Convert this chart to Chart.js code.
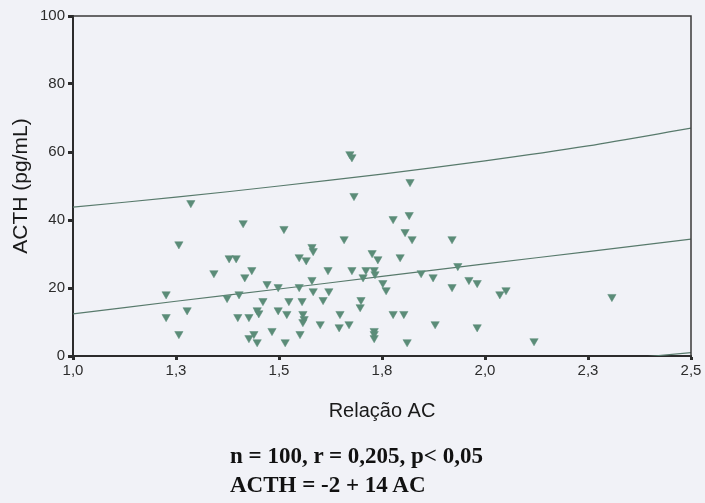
<!DOCTYPE html>
<html>
<head>
<meta charset="utf-8">
<script src="https://cdn.jsdelivr.net/npm/chart.js@4/dist/chart.umd.min.js"></script>
<style>
    body { margin: 0; background: #f1f2f7; }
    #wrap { position: relative; width: 705px; height: 503px; }
    .stat {
        position: absolute; left: 230px; margin: 0;
        font: bold 23px "Liberation Serif", "Times New Roman", serif;
        line-height: 23px; color: #111; white-space: nowrap;
    }
</style>
</head>
<body>
<div id="wrap">
    <canvas id="chart" width="705" height="503"></canvas>
    <p class="stat" style="top:444px">n = 100, r = 0,205, p&lt; 0,05</p>
    <p class="stat" style="top:473px">ACTH = -2 + 14 AC</p>
</div>
<script>

// scatter values
var acRatio = [1.286,1.257,1.413,1.512,1.672,1.677,1.818,1.682,1.816,1.777,
    1.806,1.823,1.920,1.658,1.580,1.583,1.726,1.740,1.794,1.379,
    1.396,1.549,1.566,1.342,1.434,1.417,1.471,1.498,1.549,1.226,
    1.374,1.403,1.461,1.524,1.556,1.277,1.226,1.400,1.427,1.447,
    1.451,1.498,1.519,1.558,1.561,1.558,1.257,1.427,1.439,1.447,
    1.483,1.515,1.551,1.619,1.677,1.711,1.731,1.733,1.704,1.845,
    1.874,1.934,1.580,1.583,1.621,1.752,1.760,1.920,1.699,1.697,
    1.607,1.648,1.777,1.803,1.600,1.646,1.670,1.879,1.731,1.731,
    1.731,1.811,1.961,1.981,2.036,2.051,2.308,1.981,2.119];
var acth = [45.0,32.9,39.1,37.4,59.4,58.5,51.2,47.1,41.5,40.3,
    36.5,34.4,34.4,34.4,32.1,30.9,30.3,28.5,29.1,28.8,
    28.8,29.1,28.2,24.4,25.3,23.2,21.2,20.3,20.3,18.2,
    17.1,18.2,16.2,16.2,16.2,13.5,11.5,11.5,11.5,13.5,
    12.6,13.5,12.4,12.4,10.9,10.0,6.5,5.3,6.5,4.1,
    7.4,4.1,6.5,25.3,25.3,25.3,25.3,24.1,23.2,24.4,
    23.2,26.5,22.4,19.1,19.1,21.5,19.4,20.3,16.5,14.4,
    16.5,12.4,12.4,12.4,9.4,8.5,9.4,9.4,7.4,6.5,
    5.3,4.1,22.4,21.5,18.2,19.4,17.4,8.5,4.4];

// regression line and band, read at the x ticks
var lineX = [1.0, 1.25, 1.5, 1.75, 2.0, 2.25, 2.5];
var regLine = [12.4, 16.1, 19.7, 23.4, 27.1, 30.7, 34.4];
var upperBand = [43.8, 46.7, 50.0, 53.5, 57.4, 61.8, 67.0];
var lowerBand = [-20.0, -15.5, -11.5, -7.8, -4.5, -1.8, 1.0];

var xTitle = "Relação AC";
var yTitle = "ACTH (pg/mL)";

const MARK_COLOR = "#5b8c78";
const LINE_COLOR = "#587a6c";
const AXIS_COLOR = "#2c2c2c";

function toPoints(xs, ys) {
    var pts = [];
    for (var i = 0; i < xs.length; i++) {
        pts.push({ x: xs[i], y: ys[i] });
    }
    return pts;
}

function lineSet(ys) {
    return {
        data: toPoints(lineX, ys),
        showLine: true,
        borderColor: LINE_COLOR,
        borderWidth: 1.2,
        pointRadius: 0,
        tension: 0.3
    };
}

// top and right edges of the frame
var framePlugin = {
    id: "frame",
    afterDraw: function (chart) {
        var a = chart.chartArea, ctx = chart.ctx;
        ctx.save();
        ctx.strokeStyle = "#3a3a3a";
        ctx.lineWidth = 1.5;
        ctx.beginPath();
        ctx.moveTo(a.left, a.top);
        ctx.lineTo(a.right, a.top);
        ctx.lineTo(a.right, a.bottom);
        ctx.stroke();
        ctx.restore();
    }
};

var tickFont = { family: "'Liberation Sans', Arial, sans-serif", size: 15 };

new Chart(document.getElementById("chart"), {
    type: "scatter",
    data: {
        datasets: [
            {
                data: toPoints(acRatio, acth),
                pointStyle: "triangle",
                rotation: 180,
                pointRadius: 4.8,
                pointBackgroundColor: MARK_COLOR,
                pointBorderColor: MARK_COLOR,
                pointBorderWidth: 0.5
            },
            lineSet(regLine),
            lineSet(upperBand),
            lineSet(lowerBand)
        ]
    },
    options: {
        responsive: false,
        animation: false,
        events: [],
        layout: { padding: { left: 0, right: 14, top: 16, bottom: 0 } },
        plugins: { legend: { display: false }, tooltip: { enabled: false } },
        scales: {
            x: {
                type: "linear",
                min: 1.0,
                max: 2.5,
                afterFit: function (s) { s.height = 147; },
                ticks: {
                    stepSize: 0.25,
                    color: AXIS_COLOR,
                    font: tickFont,
                    padding: 2,
                    maxRotation: 0,
                    callback: function (v) { return v.toFixed(1).replace(".", ","); }
                },
                grid: { drawOnChartArea: false, tickLength: 4, tickWidth: 3, tickColor: AXIS_COLOR },
                border: { color: AXIS_COLOR, width: 2 },
                title: {
                    display: true,
                    text: xTitle,
                    color: "#1a1a1a",
                    font: { family: "'Liberation Sans', Arial, sans-serif", size: 20 },
                    padding: { top: 0, bottom: 80 }
                }
            },
            y: {
                min: 0,
                max: 100,
                afterFit: function (s) { s.width = 73; },
                ticks: {
                    stepSize: 20,
                    color: AXIS_COLOR,
                    font: tickFont,
                    padding: 3
                },
                grid: { drawOnChartArea: false, tickLength: 5, tickWidth: 3, tickColor: AXIS_COLOR },
                border: { color: AXIS_COLOR, width: 2 },
                title: {
                    display: true,
                    text: yTitle,
                    color: "#1a1a1a",
                    font: { family: "'Liberation Sans', Arial, sans-serif", size: 21 },
                    padding: { top: 9, bottom: 0 }
                }
            }
        }
    },
    plugins: [framePlugin]
});
</script>
</body>
</html>
